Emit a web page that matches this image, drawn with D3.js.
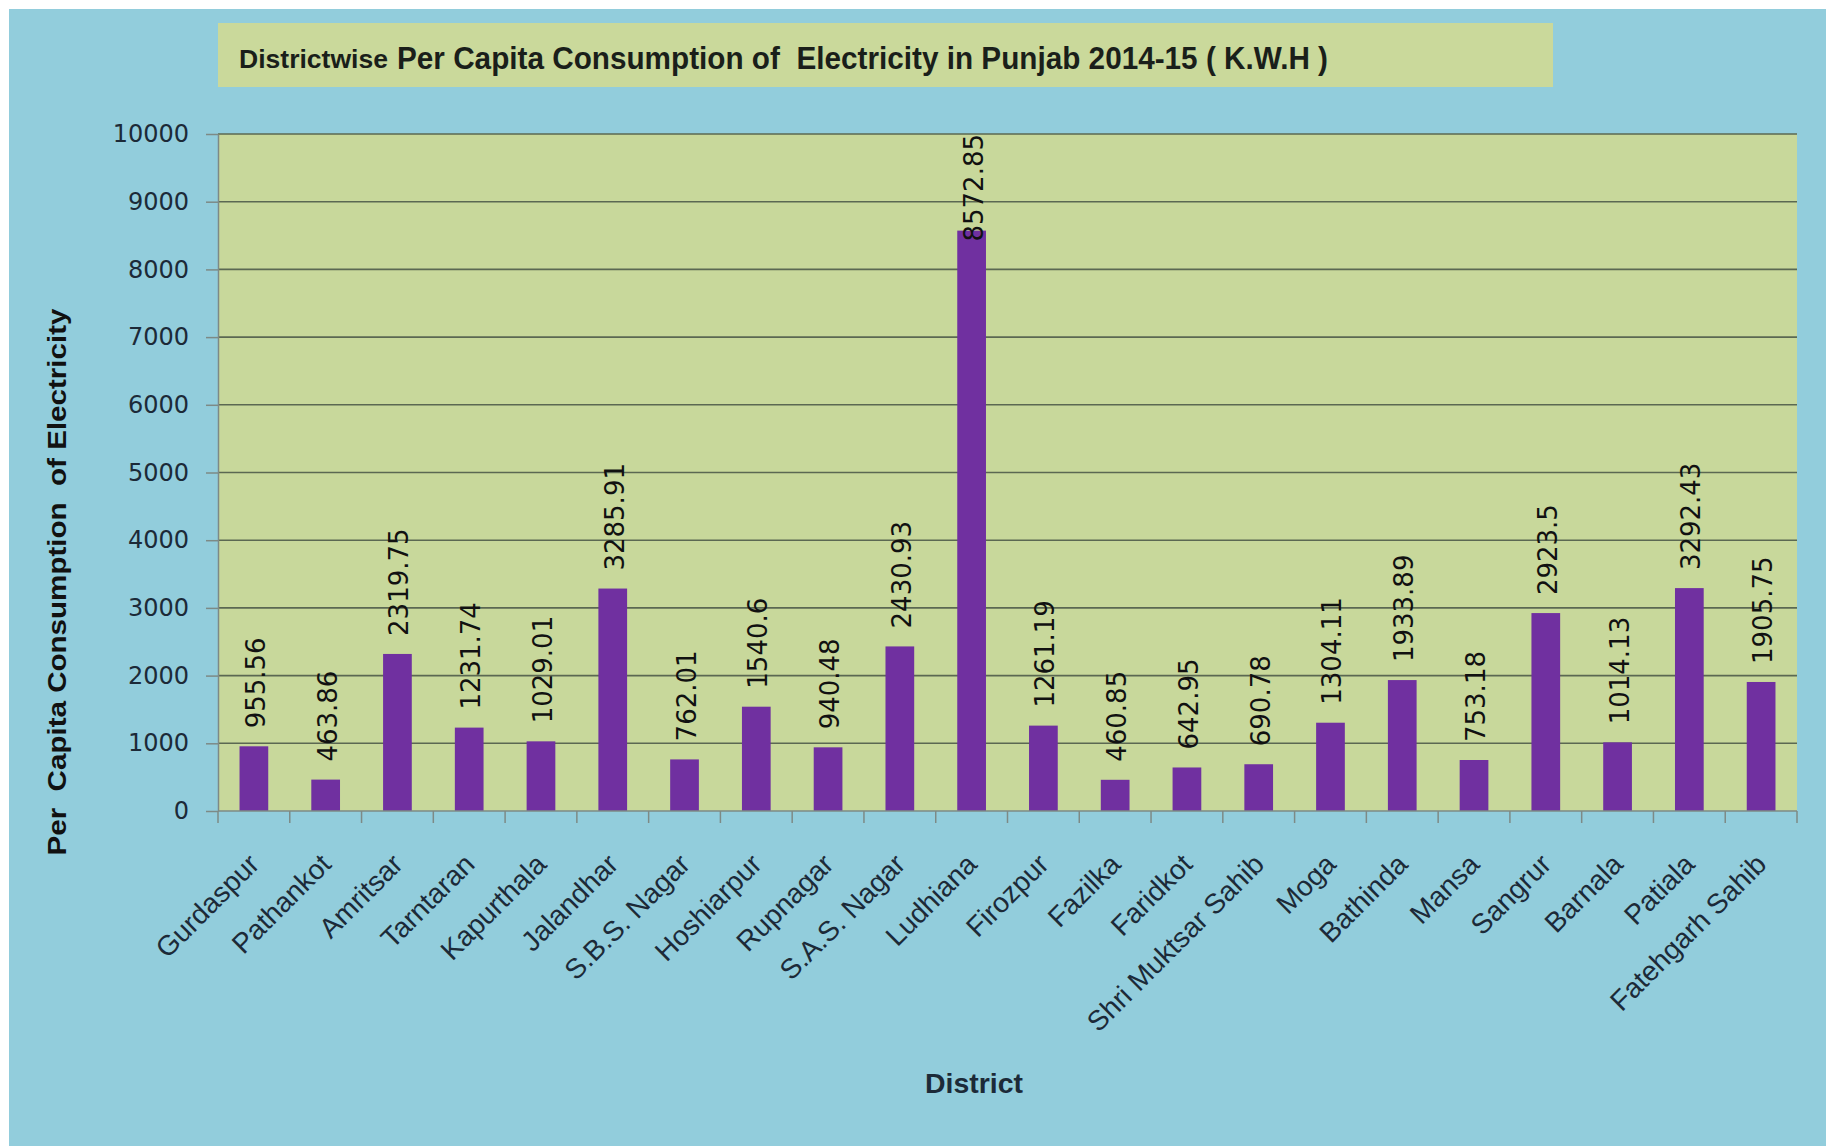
<!DOCTYPE html>
<html><head><meta charset="utf-8">
<script src="https://cdn.jsdelivr.net/npm/d3@7"></script>
<style>body{margin:0;background:#fff;overflow:hidden}</style>
</head><body>
<svg id="c" width="1826" height="1146"></svg>
<script>
const districts = ["Gurdaspur","Pathankot","Amritsar","Tarntaran","Kapurthala","Jalandhar","S.B.S. Nagar","Hoshiarpur","Rupnagar","S.A.S. Nagar","Ludhiana","Firozpur","Fazilka","Faridkot","Shri Muktsar Sahib","Moga","Bathinda","Mansa","Sangrur","Barnala","Patiala","Fatehgarh Sahib"];
const consumption = [955.56,463.86,2319.75,1231.74,1029.01,3285.91,762.01,1540.6,940.48,2430.93,8572.85,1261.19,460.85,642.95,690.78,1304.11,1933.89,753.18,2923.5,1014.13,3292.43,1905.75];
const yTicks = [0,1000,2000,3000,4000,5000,6000,7000,8000,9000,10000];
const titleSmall = "Districtwise";
const titleMain = "Per Capita Consumption of  Electricity in Punjab 2014-15 ( K.W.H )";
const xTitle = "District";
const yTitle = "Per  Capita Consumption  of Electricity";

const data = districts.map((d,i)=>({d, v: consumption[i]}));
const svg = d3.select("#c");
const C = {bg:"#92cddc", plot:"#c8d89b", bar:"#7030a0", grid:"#5b6852", axis:"#7d8a86", text:"#1c2a38"};
const m = {left:218, right:1797, top:134, bottom:811};

svg.append("rect").attr("x",9).attr("y",9).attr("width",1817).attr("height",1137).attr("fill",C.bg);

// title box
svg.append("rect").attr("x",218).attr("y",23).attr("width",1335).attr("height",64).attr("fill","#cad99b");
svg.append("text").attr("x",239).attr("y",68).text(titleSmall)
  .attr("font-family","Liberation Sans Narrow, Liberation Sans, sans-serif").attr("font-weight","bold")
  .attr("font-size",25).attr("fill","#1a1f1a").attr("textLength",149).attr("lengthAdjust","spacingAndGlyphs");
svg.append("text").attr("x",397).attr("y",69).text(titleMain).style("white-space","pre")
  .attr("font-family","Liberation Sans Narrow, Liberation Sans, sans-serif").attr("font-weight","bold")
  .attr("font-size",31).attr("fill","#1a1f1a").attr("textLength",931).attr("lengthAdjust","spacingAndGlyphs");

const x = d3.scaleBand().domain(districts).range([m.left,m.right]).paddingInner(0.6).paddingOuter(0.3);
const y = d3.scaleLinear().domain([0,10000]).range([m.bottom,m.top]);

svg.append("rect").attr("x",m.left).attr("y",m.top).attr("width",m.right-m.left).attr("height",m.bottom-m.top).attr("fill",C.plot);

// gridlines
svg.append("g").selectAll("line").data(yTicks.filter(t=>t>0)).join("line")
  .attr("x1",m.left).attr("x2",m.right).attr("y1",d=>y(d)).attr("y2",d=>y(d))
  .attr("stroke",C.grid).attr("stroke-width",1.6);

// bars
svg.append("g").selectAll("rect").data(data).join("rect")
  .attr("x",d=>x(d.d)).attr("width",x.bandwidth())
  .attr("y",d=>y(d.v)).attr("height",d=>y(0)-y(d.v)).attr("fill",C.bar);

// y axis
const ya = svg.append("g").attr("transform",`translate(${m.left},0)`)
  .call(d3.axisLeft(y).tickValues(yTicks).tickSize(12).tickSizeOuter(0).tickPadding(17).tickFormat(d=>String(d)));
ya.select(".domain").attr("stroke",C.axis).attr("stroke-width",1.5);
ya.selectAll(".tick line").attr("stroke",C.axis).attr("stroke-width",1.5);
ya.selectAll(".tick text").attr("font-family","DejaVu Sans, sans-serif").attr("font-size",24).attr("fill",C.text);

// x axis line + boundary ticks
const step = x.step();
const bounds = d3.range(districts.length+1).map(i=>m.left + i*step);
svg.append("line").attr("x1",m.left).attr("x2",m.right).attr("y1",m.bottom).attr("y2",m.bottom).attr("stroke",C.axis).attr("stroke-width",1.5);
svg.append("g").selectAll("line").data(bounds).join("line")
  .attr("x1",d=>d).attr("x2",d=>d).attr("y1",m.bottom).attr("y2",m.bottom+12).attr("stroke",C.axis).attr("stroke-width",1.5);

// x labels
const xa = svg.append("g").attr("transform",`translate(0,${m.bottom})`)
  .call(d3.axisBottom(x).tickSize(0).tickSizeOuter(0));
xa.select(".domain").remove();
xa.selectAll(".tick text").attr("x",0).attr("y",0).attr("dy",0)
  .attr("transform","translate(7,55) rotate(-45)").attr("text-anchor","end")
  .attr("font-family","Liberation Sans, Arial, sans-serif").attr("font-size",28).attr("fill",C.text);

// value labels
const vl = svg.append("g").selectAll("text").data(data).join("text")
  .text(d=>String(d.v))
  .attr("font-family","DejaVu Sans, sans-serif").attr("font-size",26).attr("fill","#111")
  .attr("text-anchor","start").attr("dominant-baseline","central");
vl.each(function(d){
  const len = this.getComputedTextLength();
  let by = y(d.v) - 18;
  if (by - len < m.top) by = m.top + len;
  d3.select(this).attr("transform",`translate(${x(d.d)+x.bandwidth()/2+2},${by}) rotate(-90)`);
});

// axis titles
svg.append("text").text(xTitle).attr("x",974).attr("y",1093).attr("text-anchor","middle")
  .attr("font-family","Liberation Sans, Arial, sans-serif").attr("font-weight","bold").attr("font-size",28)
  .attr("fill",C.text).attr("textLength",98).attr("lengthAdjust","spacingAndGlyphs");
svg.append("text").text(yTitle).style("white-space","pre")
  .attr("transform","translate(66,582) rotate(-90)").attr("text-anchor","middle")
  .attr("font-family","Liberation Sans, Arial, sans-serif").attr("font-weight","bold").attr("font-size",25)
  .attr("fill","#111").attr("textLength",547).attr("lengthAdjust","spacingAndGlyphs");
</script>
</body></html>
